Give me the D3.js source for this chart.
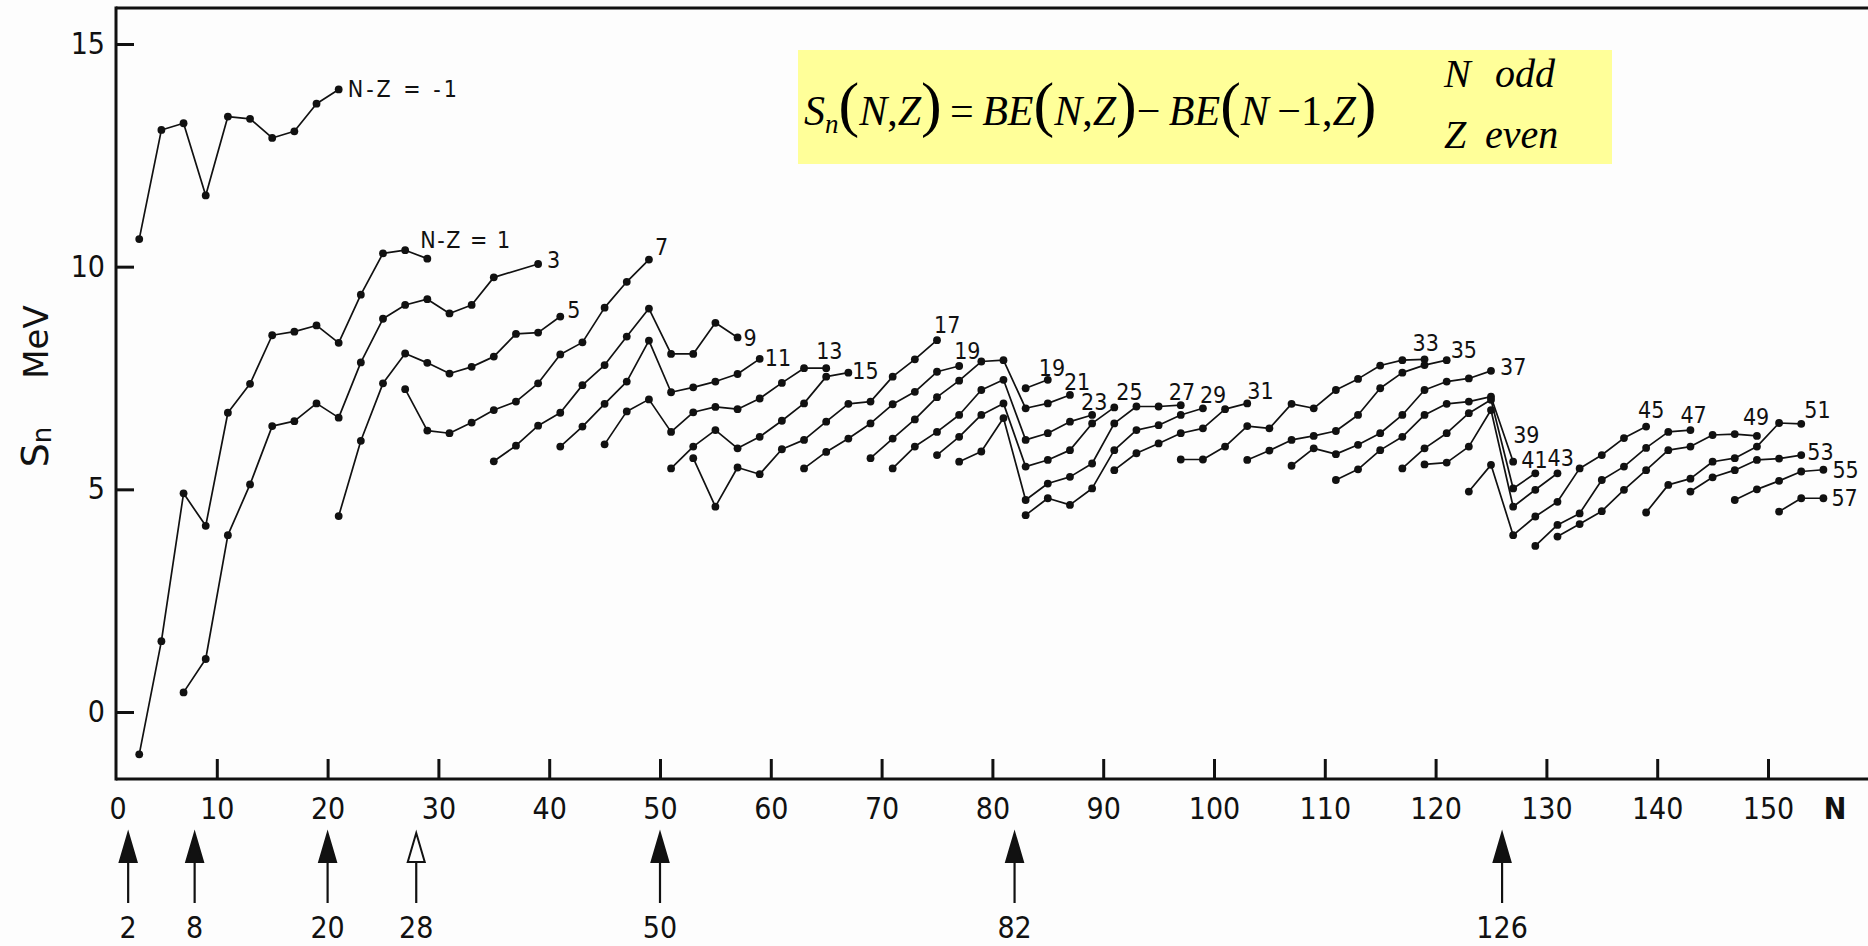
<!DOCTYPE html>
<html>
<head>
<meta charset="utf-8">
<script src="https://cdnjs.cloudflare.com/ajax/libs/d3/7.8.5/d3.min.js"></script>
<style>
body { margin: 0; background: #fdfdfd; }
svg { display: block; }
</style>
</head>
<body>
<div id="chart-area"></div>
<script>
// neutron separation energies (MeV) for odd N, even Z, one chain per N-Z
var curveLabels = ["N-Z = -1", "N-Z = 1", "3", "5", "7", "9", "11", "13", "15", "17", "19",
	"21", "23", "25", "27", "29", "31", "19", "33", "35", "37", "39", "41", "43", "45",
	"47", "49", "51", "53", "55", "57"];

var curveN = [
	[3, 5, 7, 9, 11, 13, 15, 17, 19, 21],
	[3, 5, 7, 9, 11, 13, 15, 17, 19, 21, 23, 25, 27, 29],
	[7, 9, 11, 13, 15, 17, 19, 21, 23, 25, 27, 29, 31, 33, 35, 39],
	[21, 23, 25, 27, 29, 31, 33, 35, 37, 39, 41],
	[27, 29, 31, 33, 35, 37, 39, 41, 43, 45, 47, 49],
	[35, 37, 39, 41, 43, 45, 47, 49, 51, 53, 55, 57],
	[41, 43, 45, 47, 49, 51, 53, 55, 57, 59],
	[45, 47, 49, 51, 53, 55, 57, 59, 61, 63, 65],
	[51, 53, 55, 57, 59, 61, 63, 65, 67],
	[53, 55, 57, 59, 61, 63, 65, 67, 69, 71, 73, 75],
	[63, 65, 67, 69, 71, 73, 75, 77],
	[69, 71, 73, 75, 77, 79, 81, 83, 85, 87],
	[71, 73, 75, 77, 79, 81, 83, 85, 87, 89],
	[75, 77, 79, 81, 83, 85, 87, 89, 91],
	[77, 79, 81, 83, 85, 87, 89, 91, 93, 95, 97],
	[83, 85, 87, 89, 91, 93, 95, 97, 99],
	[91, 93, 95, 97, 99, 101, 103],
	[83, 85],
	[97, 99, 101, 103, 105, 107, 109, 111, 113, 115, 117, 119],
	[103, 105, 107, 109, 111, 113, 115, 117, 119, 121],
	[107, 109, 111, 113, 115, 117, 119, 121, 123, 125],
	[111, 113, 115, 117, 119, 121, 123, 125, 127],
	[117, 119, 121, 123, 125, 127, 129],
	[119, 121, 123, 125, 127, 129, 131],
	[123, 125, 127, 129, 131, 133, 135, 137, 139],
	[129, 131, 133, 135, 137, 139, 141, 143],
	[131, 133, 135, 137, 139, 141, 143, 145, 147, 149],
	[139, 141, 143, 145, 147, 149, 151, 153],
	[143, 145, 147, 149, 151, 153],
	[147, 149, 151, 153, 155],
	[151, 153, 155]
];

var curveSn = [
	[10.62, 13.07, 13.22, 11.60, 13.37, 13.32, 12.89, 13.04, 13.66, 13.98],
	[-0.95, 1.59, 4.91, 4.18, 6.72, 7.37, 8.46, 8.54, 8.68, 8.29, 9.37, 10.30, 10.37, 10.18],
	[0.44, 1.19, 3.97, 5.11, 6.42, 6.53, 6.93, 6.61, 7.85, 8.83, 9.14, 9.27, 8.95, 9.14, 9.76, 10.06],
	[4.40, 6.09, 7.38, 8.05, 7.84, 7.60, 7.75, 7.98, 8.49, 8.52, 8.88],
	[7.25, 6.32, 6.26, 6.50, 6.78, 6.97, 7.38, 8.03, 8.30, 9.08, 9.66, 10.16],
	[5.63, 5.98, 6.43, 6.72, 7.34, 7.79, 8.43, 9.06, 8.04, 8.04, 8.74, 8.41],
	[5.96, 6.41, 6.92, 7.42, 8.34, 7.18, 7.29, 7.42, 7.59, 7.93],
	[6.01, 6.75, 7.02, 6.29, 6.73, 6.85, 6.80, 7.04, 7.39, 7.72, 7.72],
	[5.47, 5.96, 6.33, 5.92, 6.18, 6.54, 6.93, 7.53, 7.62],
	[5.70, 4.61, 5.49, 5.34, 5.90, 6.11, 6.52, 6.92, 6.97, 7.53, 7.92, 8.35],
	[5.47, 5.84, 6.14, 6.48, 6.91, 7.19, 7.64, 7.77],
	[5.70, 6.14, 6.57, 7.07, 7.44, 7.87, 7.90, 6.82, 6.93, 7.12],
	[5.47, 5.96, 6.29, 6.67, 7.23, 7.46, 6.11, 6.26, 6.52, 6.67],
	[5.77, 6.18, 6.67, 6.93, 5.51, 5.66, 5.88, 6.48, 6.84],
	[5.62, 5.85, 6.60, 4.76, 5.13, 5.28, 5.58, 6.48, 6.86, 6.86, 6.89],
	[4.42, 4.80, 4.65, 5.02, 5.88, 6.33, 6.44, 6.67, 6.82],
	[5.43, 5.81, 6.03, 6.26, 6.37, 6.80, 6.93],
	[7.27, 7.46],
	[5.67, 5.67, 5.96, 6.42, 6.37, 6.92, 6.82, 7.23, 7.48, 7.78, 7.90, 7.92],
	[5.66, 5.87, 6.11, 6.20, 6.31, 6.67, 7.27, 7.62, 7.79, 7.90],
	[5.53, 5.92, 5.79, 6.00, 6.26, 6.67, 7.23, 7.42, 7.49, 7.66],
	[5.21, 5.45, 5.88, 6.18, 6.67, 6.92, 6.97, 7.08, 5.62],
	[5.47, 5.92, 6.26, 6.71, 7.01, 5.02, 5.36],
	[5.56, 5.60, 5.96, 6.78, 4.61, 4.99, 5.36],
	[4.95, 5.55, 3.97, 4.39, 4.72, 5.47, 5.77, 6.15, 6.41],
	[3.73, 4.20, 4.46, 5.21, 5.51, 5.93, 6.29, 6.33],
	[3.94, 4.22, 4.51, 4.99, 5.43, 5.88, 5.96, 6.22, 6.24, 6.20],
	[4.48, 5.10, 5.24, 5.62, 5.70, 5.96, 6.49, 6.47],
	[4.95, 5.27, 5.43, 5.66, 5.69, 5.77],
	[4.76, 5.00, 5.19, 5.40, 5.44],
	[4.50, 4.80, 4.80]
];

var xTicks = [10, 20, 30, 40, 50, 60, 70, 80, 90, 100, 110, 120, 130, 140, 150];
var yTicks = [0, 5, 10, 15];
var magicNumbers = [2, 8, 20, 28, 50, 82, 126];

// label placement next to the last point of each chain [dx, dy]
var labelOffset = [[9, 0], [-7, -19], [9, -4], [7, -7], [6, -13], [6, 0], [5, -1], [-10, -17],
	[4, -2], [-3, -15], [-5, -15], [-6, -13], [-11, -13], [2, -15], [-12, -13], [-3, -13],
	[0, -12], [-9, -12], [-12, -16], [4, -10], [9, -4], [0, -27], [-14, -13], [-10, -15],
	[-8, -17], [-10, -15], [-14, -19], [3, -14], [6, -3], [9, 0], [8, 0]];

var width = 1868, height = 946;
var axisLeftX = 116, axisBottomY = 779, frameTopY = 8;
var narrow = "'Liberation Sans Narrow', 'DejaVu Sans Condensed', sans-serif";

var svg = d3.select("#chart-area").append("svg")
	.attr("width", width)
	.attr("height", height);

svg.append("rect").attr("width", width).attr("height", height).attr("fill", "#fdfdfd");

var x = d3.scaleLinear().domain([0, 150]).range([106, 1768]);
var y = d3.scaleLinear().domain([0, 15]).range([712, 44]);

// frame: top line, left axis, bottom axis
svg.append("line")
	.attr("x1", axisLeftX).attr("x2", width)
	.attr("y1", frameTopY).attr("y2", frameTopY)
	.attr("stroke", "#111").attr("stroke-width", 3);
svg.append("line")
	.attr("x1", axisLeftX).attr("x2", axisLeftX)
	.attr("y1", frameTopY - 1.5).attr("y2", axisBottomY + 1.5)
	.attr("stroke", "#111").attr("stroke-width", 3);
svg.append("line")
	.attr("x1", axisLeftX).attr("x2", width)
	.attr("y1", axisBottomY).attr("y2", axisBottomY)
	.attr("stroke", "#111").attr("stroke-width", 3);

var yAxis = svg.append("g")
	.attr("transform", "translate(" + axisLeftX + ",0)")
	.call(d3.axisLeft(y).tickValues(yTicks).tickSize(-18).tickPadding(11));
yAxis.select(".domain").remove();
yAxis.selectAll("line").attr("stroke", "#111").attr("stroke-width", 3);
yAxis.selectAll("text").attr("font-family", narrow).attr("font-size", 30).attr("fill", "#111");

var xAxis = svg.append("g")
	.attr("transform", "translate(0," + axisBottomY + ")")
	.call(d3.axisBottom(x).tickValues(xTicks).tickSize(-20).tickPadding(19));
xAxis.select(".domain").remove();
xAxis.selectAll("line").attr("stroke", "#111").attr("stroke-width", 3);
xAxis.selectAll("text").attr("font-family", narrow).attr("font-size", 30).attr("fill", "#111");

svg.append("text")
	.attr("x", axisLeftX + 2).attr("y", axisBottomY + 19)
	.attr("dy", "0.71em")
	.attr("text-anchor", "middle")
	.attr("font-family", narrow).attr("font-size", 30).attr("fill", "#111")
	.text("0");

svg.append("text")
	.attr("x", 1835).attr("y", axisBottomY + 19)
	.attr("dy", "0.71em")
	.attr("text-anchor", "middle")
	.attr("font-family", narrow).attr("font-size", 30).attr("font-weight", "bold").attr("fill", "#111")
	.text("N");

// y axis title
svg.append("text")
	.attr("transform", "translate(48,342) rotate(-90)")
	.attr("text-anchor", "middle")
	.attr("font-family", "'DejaVu Sans', sans-serif").attr("font-size", 34).attr("fill", "#111")
	.text("MeV");
var sn = svg.append("text")
	.attr("transform", "translate(48,447) rotate(-90)")
	.attr("text-anchor", "middle")
	.attr("font-family", "'DejaVu Sans', sans-serif").attr("fill", "#111");
sn.append("tspan").attr("font-size", 38).text("S");
sn.append("tspan").attr("font-size", 26).attr("dy", 3).text("n");

// magic number arrows
var arrows = svg.selectAll(".magic")
	.data(magicNumbers)
	.enter().append("g")
	.attr("class", "magic")
	.attr("transform", d => "translate(" + x(d) + ",0)");
arrows.append("line")
	.attr("x1", 0).attr("x2", 0).attr("y1", 858).attr("y2", 903)
	.attr("stroke", "#111").attr("stroke-width", 2.2);
arrows.append("path")
	.attr("d", "M0,833 L-8.5,862 L8.5,862 Z")
	.attr("fill", d => d === 28 ? "#fdfdfd" : "#111")
	.attr("stroke", "#111").attr("stroke-width", 2);
arrows.append("text")
	.attr("y", 938)
	.attr("text-anchor", "middle")
	.attr("font-family", narrow).attr("font-size", 30).attr("fill", "#111")
	.text(d => d);

// chains
var line = d3.line()
	.x(d => x(d.n))
	.y(d => y(d.s));

var chains = curveLabels.map((lab, i) => ({
	label: lab,
	points: curveN[i].map((n, j) => ({ n: n, s: curveSn[i][j] })),
	offset: labelOffset[i]
}));

var chainG = svg.selectAll(".chain")
	.data(chains)
	.enter().append("g")
	.attr("class", "chain");

chainG.append("path")
	.attr("d", d => line(d.points))
	.attr("fill", "none")
	.attr("stroke", "#111")
	.attr("stroke-width", 1.7)
	.attr("stroke-linejoin", "round");

chainG.selectAll("circle")
	.data(d => d.points)
	.enter().append("circle")
	.attr("cx", d => x(d.n))
	.attr("cy", d => y(d.s))
	.attr("r", 3.9)
	.attr("fill", "#111");

chainG.append("text")
	.attr("x", d => x(d.points[d.points.length - 1].n) + d.offset[0])
	.attr("y", d => y(d.points[d.points.length - 1].s) + d.offset[1])
	.attr("dy", "0.35em")
	.attr("font-family", narrow)
	.attr("font-size", 23)
	.attr("letter-spacing", d => d.label === "N-Z = -1" ? 3 : (d.label.length > 3 ? 1.5 : 0))
	.attr("fill", "#111")
	.text(d => d.label);

// formula box
svg.append("rect")
	.attr("x", 798).attr("y", 50)
	.attr("width", 814).attr("height", 114)
	.attr("fill", "#ffff99");

var serif = "'Liberation Serif', 'Times New Roman', serif";
var f = svg.append("text")
	.attr("x", 804).attr("y", 125)
	.attr("font-family", serif).attr("font-size", 42).attr("fill", "#000");
var parts = [
	["S", "i"], ["n", "sub"], ["(", "p"], ["N", "i"], [",", "u"], ["Z", "i"], [")", "p"],
	["\u2009=\u2009", "u"], ["BE", "i"], ["(", "p"], ["N", "i"], [",", "u"], ["Z", "i"], [")", "p"],
	["\u2212\u2009", "u"], ["BE", "i"], ["(", "p"], ["N", "i"], ["\u2009\u2212", "u"], ["1", "u"],
	[",", "u"], ["Z", "i"], [")", "p"]
];
var shift = 0;
parts.forEach(p => {
	var t = f.append("tspan").text(p[0]);
	var target = p[1] === "sub" ? 8 : 0;
	if (target !== shift) { t.attr("dy", target - shift); shift = target; }
	if (p[1] === "i" || p[1] === "sub") t.attr("font-style", "italic");
	if (p[1] === "sub") t.attr("font-size", 27);
	if (p[1] === "p") t.attr("font-size", 62);
});

var cond = svg.append("g")
	.attr("font-family", serif).attr("font-style", "italic")
	.attr("font-size", 40).attr("fill", "#000");
var t1 = cond.append("text").attr("y", 87);
t1.append("tspan").attr("x", 1444).text("N");
t1.append("tspan").attr("x", 1495).text("odd");
var t2 = cond.append("text").attr("y", 148);
t2.append("tspan").attr("x", 1444).text("Z");
t2.append("tspan").attr("x", 1485).text("even");
</script>
</body>
</html>
